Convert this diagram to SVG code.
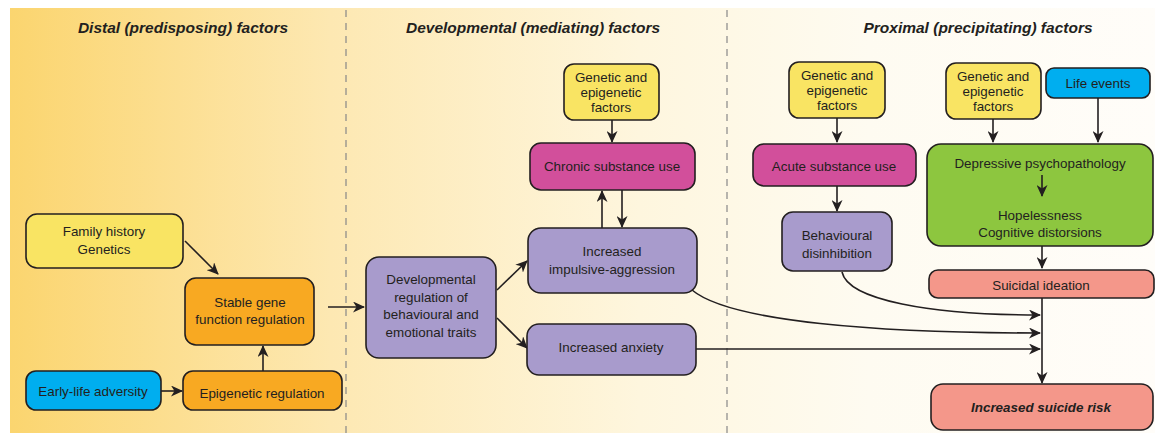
<svg xmlns="http://www.w3.org/2000/svg" width="1155" height="433" viewBox="0 0 1155 433">
<defs>
<linearGradient id="bg" x1="0" y1="0" x2="1" y2="0">
<stop offset="0" stop-color="#fbd56f"/>
<stop offset="0.28" stop-color="#fde8b2"/>
<stop offset="0.55" stop-color="#fef6de"/>
<stop offset="0.75" stop-color="#fefbf1"/>
<stop offset="1" stop-color="#fffdf9"/>
</linearGradient>
<marker id="ah" viewBox="0 0 12 11" refX="11" refY="5.5" markerWidth="12" markerHeight="11" markerUnits="userSpaceOnUse" orient="auto">
<path d="M0,0 L12,5.5 L0,11 L3.5,5.5 Z" fill="#231f20"/>
</marker>
<style>
.box{stroke:#231f20;stroke-width:1.6}
.yel{fill:#f9e463}.org{fill:#f8a922}.blu{fill:#00aeef}.pur{fill:#a89bcc}.mag{fill:#d24f9b}.grn{fill:#8dc63f}.sal{fill:#f4978a}
.t{font-family:"Liberation Sans",Arial,sans-serif;font-size:13.4px;fill:#231f20;text-anchor:middle}
.h{font-family:"Liberation Sans",Arial,sans-serif;font-size:15.5px;font-weight:bold;font-style:italic;fill:#231f20;text-anchor:middle}
.c{fill:none;stroke:#231f20;stroke-width:1.6;marker-end:url(#ah)}
.d{stroke:#888;stroke-width:1.2;stroke-dasharray:7,6}
</style>
</defs>
<rect x="0" y="0" width="1155" height="433" fill="#ffffff"/>
<rect x="10" y="8" width="1145" height="425" fill="url(#bg)"/>
<line class="d" x1="346" y1="10" x2="346" y2="433"/>
<line class="d" x1="727" y1="10" x2="727" y2="433"/>
<text class="h" x="183" y="33">Distal (predisposing) factors</text>
<text class="h" x="533" y="33">Developmental (mediating) factors</text>
<text class="h" x="978" y="33">Proximal (precipitating) factors</text>

<g id="connectors">
<path class="c" d="M185,241 L218,274"/>
<path class="c" d="M161,391 L182,391"/>
<path class="c" d="M263,371 L263,346"/>
<path class="c" d="M328,307 L364,307"/>
<path class="c" d="M497,290 L527,261"/>
<path class="c" d="M497,318 L527,348"/>
<path class="c" d="M612,120 L612,142"/>
<path class="c" d="M602,228 L602,191"/>
<path class="c" d="M622,190 L622,227"/>
<path class="c" d="M837,118 L837,142"/>
<path class="c" d="M837,186 L837,211"/>
<path class="c" d="M993,119 L993,142"/>
<path class="c" d="M1098,98 L1098,142"/>
<path class="c" d="M1042,246 L1042,268"/>
<path class="c" d="M1042,298 L1042,383"/>
<path class="c" d="M842,272 C848,300 930,315 1040,315"/>
<path class="c" d="M692,290 C730,322 880,333 1040,333"/>
<path class="c" d="M696,349 L1040,349"/>
</g>

<g id="family"><rect class="box yel" x="26" y="214" width="157" height="54" rx="11"/><text class="t" x="104" y="236">Family history</text><text class="t" x="104" y="254">Genetics</text></g>
<g id="stable"><rect class="box org" x="185" y="278" width="129" height="67" rx="11"/><text class="t" x="250" y="307">Stable gene</text><text class="t" x="250" y="324">function regulation</text></g>
<g id="early"><rect class="box blu" x="26" y="371" width="135" height="39" rx="10"/><text class="t" x="93" y="396">Early-life adversity</text></g>
<g id="epi"><rect class="box org" x="183" y="371" width="159" height="39" rx="10"/><text class="t" x="262" y="398">Epigenetic regulation</text></g>
<g id="devreg"><rect class="box pur" x="366" y="257" width="130" height="101" rx="13"/><text class="t" x="431" y="284">Developmental</text><text class="t" x="431" y="302">regulation of</text><text class="t" x="431" y="319">behavioural and</text><text class="t" x="431" y="337">emotional traits</text></g>
<g id="gen1"><rect class="box yel" x="564" y="64" width="95" height="56" rx="10"/><text class="t" x="611" y="82">Genetic and</text><text class="t" x="611" y="97">epigenetic</text><text class="t" x="611" y="112">factors</text></g>
<g id="chronic"><rect class="box mag" x="530" y="143" width="165" height="47" rx="11"/><text class="t" x="612" y="171">Chronic substance use</text></g>
<g id="impulsive"><rect class="box pur" x="528" y="228" width="169" height="65" rx="13"/><text class="t" x="612" y="256">Increased</text><text class="t" x="612" y="274">impulsive-aggression</text></g>
<g id="anxiety"><rect class="box pur" x="527" y="324" width="169" height="51" rx="12"/><text class="t" x="611" y="352">Increased anxiety</text></g>
<g id="gen2"><rect class="box yel" x="789" y="62" width="96" height="56" rx="10"/><text class="t" x="837" y="80">Genetic and</text><text class="t" x="837" y="95">epigenetic</text><text class="t" x="837" y="110">factors</text></g>
<g id="acute"><rect class="box mag" x="753" y="144" width="163" height="42" rx="11"/><text class="t" x="834" y="171">Acute substance use</text></g>
<g id="behav"><rect class="box pur" x="782" y="212" width="110" height="59" rx="11"/><text class="t" x="837" y="240">Behavioural</text><text class="t" x="837" y="258">disinhibition</text></g>
<g id="gen3"><rect class="box yel" x="946" y="63" width="95" height="56" rx="10"/><text class="t" x="993" y="81">Genetic and</text><text class="t" x="993" y="96">epigenetic</text><text class="t" x="993" y="111">factors</text></g>
<g id="life"><rect class="box blu" x="1046" y="68" width="104" height="30" rx="8"/><text class="t" x="1098" y="88">Life events</text></g>
<g id="depressive"><rect class="box grn" x="927" y="144" width="226" height="102" rx="14"/><text class="t" x="1040" y="168">Depressive psychopathology</text><text class="t" x="1040" y="220">Hopelessness</text><text class="t" x="1040" y="237">Cognitive distorsions</text><path class="c" d="M1042,175 L1042,196"/></g>
<g id="ideation"><rect class="box sal" x="929" y="270" width="225" height="28" rx="9"/><text class="t" x="1041" y="290">Suicidal ideation</text></g>
<g id="risk"><rect class="box sal" x="931" y="384" width="222" height="46" rx="12"/><text class="t" x="1041" y="412" style="font-weight:bold;font-style:italic">Increased suicide risk</text></g>
</svg>
